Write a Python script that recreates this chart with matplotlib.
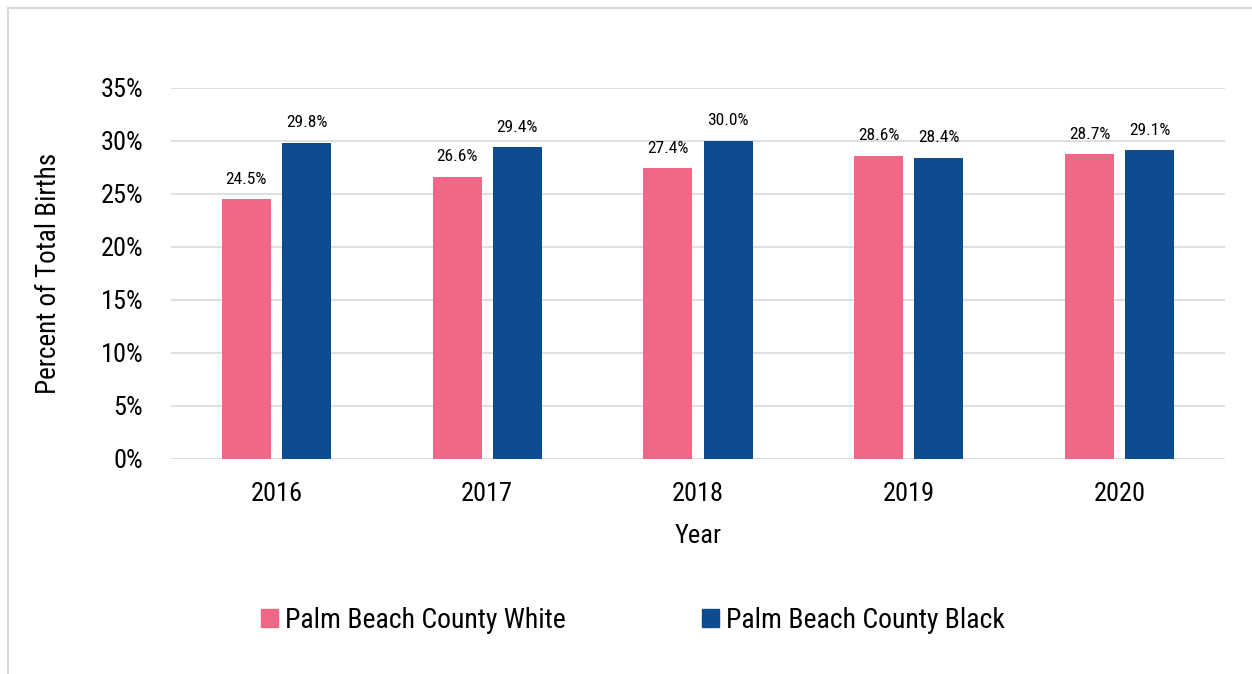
import matplotlib
matplotlib.use("Agg")
import matplotlib.pyplot as plt
from matplotlib.patches import Patch
from matplotlib.lines import Line2D

plt.rcParams['font.family'] = ['Roboto Condensed', 'Liberation Sans', 'DejaVu Sans']

years = ["2016", "2017", "2018", "2019", "2020"]
white = [24.5, 26.6, 27.4, 28.6, 28.7]
black = [29.8, 29.4, 30.0, 28.4, 29.1]
series_names = ["Palm Beach County White", "Palm Beach County Black"]
colors = ["#F06885", "#0D4C8F"]
yticks = [0, 5, 10, 15, 20, 25, 30, 35]

fig = plt.figure(figsize=(12.52, 6.74), dpi=100)
ax = fig.add_axes([171/1252, 1 - 458.7/674, (1225-171)/1252, (458.7-87.7)/674])

x = list(range(len(years)))
w = 0.2325
off = 0.1425
b1 = ax.bar([i - off for i in x], white, width=w, color=colors[0], zorder=3)
b2 = ax.bar([i + off for i in x], black, width=w, color=colors[1], zorder=3)
for bars, vals in ((b1, white), (b2, black)):
    for r, v in zip(bars, vals):
        ax.annotate(f"{v:.1f}%", (r.get_x() + r.get_width()/2, v), xytext=(0, 9),
                    textcoords="offset points", ha="center", va="bottom", fontsize=12.5)

ax.set_xlim(-0.5, 4.5)
ax.set_ylim(0, 35)
ax.set_yticks(yticks)
ax.set_yticklabels([f"{t}%" for t in yticks])
ax.set_xticks(x)
ax.set_xticklabels(years)
ax.grid(axis="y", color="#D9D9D9", lw=1.2, zorder=0)
ax.set_axisbelow(True)
for s in ax.spines.values():
    s.set_visible(False)
ax.tick_params(axis="y", length=0, pad=20, labelsize=19)
ax.tick_params(axis="x", length=0, pad=17, labelsize=19)
ax.set_xlabel("Year", fontsize=19, labelpad=13)
ax.set_ylabel("Percent of Total Births", fontsize=19.5, labelpad=28)

handles = [Patch(facecolor=c, edgecolor=c) for c in colors]
fig.legend(handles, series_names, loc="center", bbox_to_anchor=(633/1252, 1 - 620/674),
           ncol=2, frameon=False, fontsize=20, handlelength=0.6, handleheight=0.6,
           handletextpad=0.25, columnspacing=4.9)

# outer border (only top and left visible)
fig.add_artist(Line2D([7.5/1252, 7.5/1252], [0, 1 - 8/674], color="#D9D9D9", lw=1.5, transform=fig.transFigure))
fig.add_artist(Line2D([7.5/1252, 1], [1 - 8/674, 1 - 8/674], color="#D9D9D9", lw=1.5, transform=fig.transFigure))

fig.savefig("out.png", dpi=100)
